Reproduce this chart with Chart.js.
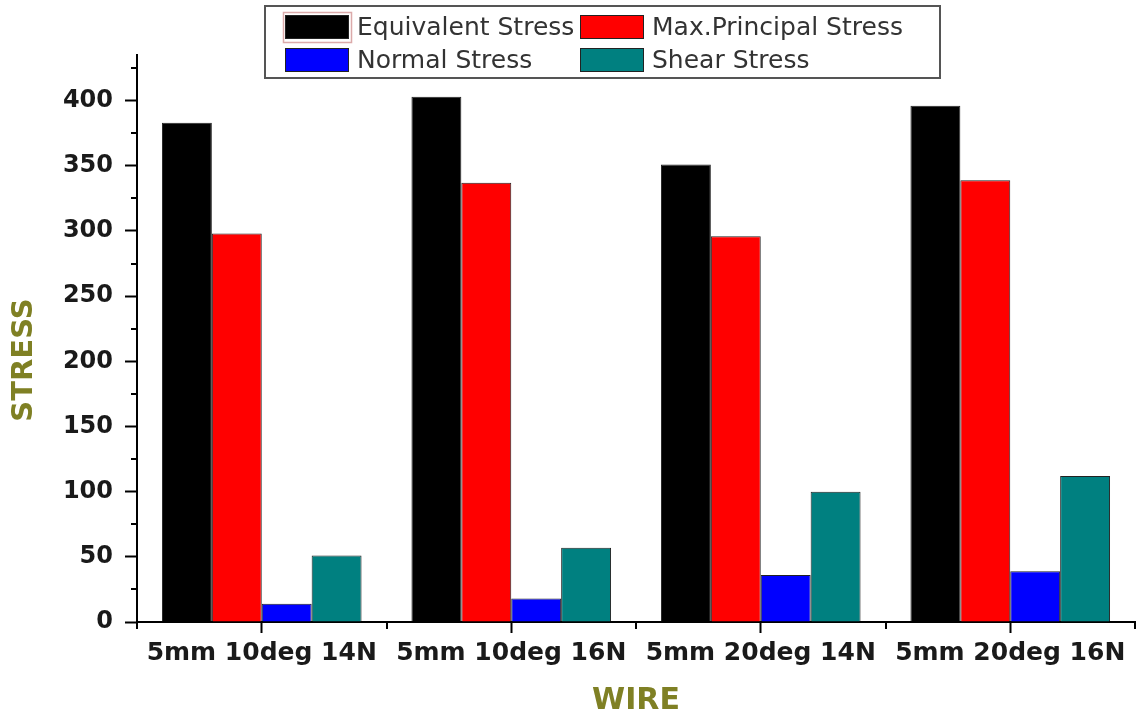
<!DOCTYPE html>
<html>
<head>
<meta charset="utf-8">
<title>Stress by wire configuration</title>
<script src="https://cdn.jsdelivr.net/npm/chart.js@4.4.1/dist/chart.umd.min.js"></script>
<style>
  html, body { margin: 0; padding: 0; background: #ffffff; }
  #wrap { width: 1138px; height: 721px; position: relative; }
  canvas { display: block; }
</style>
</head>
<body>
<div id="wrap"><canvas id="chart" width="1138" height="721"></canvas></div>
<script>
// Wire configurations along the x axis
const categories = ['5mm 10deg 14N', '5mm 10deg 16N', '5mm 20deg 14N', '5mm 20deg 16N'];

// Stress values for each configuration
const equivalentStress   = [383, 403, 351, 396];
const maxPrincipalStress = [298, 337, 296, 339];
const normalStress       = [14, 18, 36, 39];
const shearStress        = [51, 57, 100, 112];

// Series names shown in the legend
const seriesNames = ['Equivalent Stress', 'Max.Principal Stress', 'Normal Stress', 'Shear Stress'];

// Value axis range and tick spacing
const yMin = 0;
const yMax = 435;
const yMajorStep = 50;
const yMinorStep = 25;

// Axis titles
const xTitle = 'WIRE';
const yTitle = 'STRESS';

const titleColor = '#7f8024';
const tickTextColor = '#1a1a1a';

// Small secondary tick marks between the labelled ones
const minorTicks = {
  id: 'minorTicks',
  afterDraw(chart) {
    const { ctx, scales: { x, y } } = chart;
    ctx.save();
    ctx.strokeStyle = '#000';
    ctx.lineWidth = 2;
    ctx.beginPath();
    for (let v = yMinorStep; v <= yMax; v += yMajorStep) {
      const py = Math.round(y.getPixelForValue(v));
      ctx.moveTo(y.right - 6, py);
      ctx.lineTo(y.right, py);
    }
    for (let i = 0; i <= categories.length; i++) {
      const px = Math.round(x.getPixelForValue(i - 0.5));
      ctx.moveTo(px, x.top);
      ctx.lineTo(px, x.top + 7);
    }
    ctx.stroke();
    ctx.restore();
  }
};

// Vertical title of the value axis
const valueAxisTitle = {
  id: 'valueAxisTitle',
  afterDraw(chart) {
    const ctx = chart.ctx;
    ctx.save();
    ctx.translate(24, 360);
    ctx.rotate(-Math.PI / 2);
    ctx.font = 'bold 29px "DejaVu Sans"';
    ctx.fillStyle = titleColor;
    ctx.textAlign = 'center';
    ctx.textBaseline = 'middle';
    ctx.fillText(yTitle, 0, 0);
    ctx.restore();
  }
};

// Framed two-column legend at the top of the plot
const boxLegend = {
  id: 'boxLegend',
  afterDraw(chart) {
    const ctx = chart.ctx;
    const box = { x: 265, y: 6, w: 675, h: 72 };
    const cols = [285, 580];
    const rows = [27, 60];
    ctx.save();
    ctx.fillStyle = '#ffffff';
    ctx.fillRect(box.x, box.y, box.w, box.h);
    ctx.strokeStyle = '#555555';
    ctx.lineWidth = 2;
    ctx.strokeRect(box.x, box.y, box.w, box.h);
    chart.data.datasets.forEach((ds, i) => {
      const cx = cols[i % 2];
      const cy = rows[Math.floor(i / 2)];
      if (i === 0) {
        ctx.strokeStyle = 'rgba(190, 100, 100, 0.55)';
        ctx.lineWidth = 1.5;
        ctx.strokeRect(cx - 1.5, cy - 14.5, 68, 30);
      }
      ctx.fillStyle = ds.backgroundColor;
      ctx.fillRect(cx, cy - 12, 64, 24);
      ctx.strokeStyle = '#222';
      ctx.lineWidth = 1;
      ctx.strokeRect(cx + 0.5, cy - 11.5, 63, 23);
      ctx.fillStyle = '#333333';
      ctx.font = '25px "DejaVu Sans"';
      ctx.textAlign = 'left';
      ctx.textBaseline = 'middle';
      ctx.fillText(ds.label, cx + 72, cy + 1);
    });
    ctx.restore();
  }
};

const seriesValues = [equivalentStress, maxPrincipalStress, normalStress, shearStress];
const seriesColors = ['#000000', '#ff0000', '#0000ff', '#008080'];

const chart = new Chart(document.getElementById('chart'), {
  type: 'bar',
  data: {
    labels: categories,
    datasets: seriesNames.map((name, i) => ({
      label: name,
      data: seriesValues[i],
      backgroundColor: seriesColors[i],
      borderColor: 'rgba(10, 10, 10, 0.9)',
      borderWidth: 1,
      categoryPercentage: 0.8,
      barPercentage: 1.0
    }))
  },
  options: {
    responsive: false,
    animation: false,
    devicePixelRatio: 1,
    layout: { padding: { top: 55, right: 3, left: 0, bottom: 0 } },
    plugins: {
      legend: { display: false },
      tooltip: { enabled: false },
      title: { display: false }
    },
    scales: {
      x: {
        offset: true,
        border: { display: true, color: '#000', width: 2 },
        grid: {
          display: true,
          offset: false,
          drawOnChartArea: false,
          drawTicks: true,
          tickLength: 11,
          tickWidth: 2,
          tickColor: '#000'
        },
        ticks: {
          color: tickTextColor,
          font: { family: '"DejaVu Sans"', size: 25, weight: 'bold' },
          padding: 5,
          maxRotation: 0,
          autoSkip: false
        },
        title: {
          display: true,
          text: xTitle,
          color: titleColor,
          font: { family: '"DejaVu Sans"', size: 30, weight: 'bold' },
          padding: { top: 0, bottom: 2 }
        },
        afterFit(scale) { scale.height = 99; }
      },
      y: {
        min: yMin,
        max: yMax,
        border: { display: true, color: '#000', width: 2 },
        grid: {
          display: true,
          drawOnChartArea: false,
          drawTicks: true,
          tickLength: 12,
          tickWidth: 2,
          tickColor: '#000'
        },
        ticks: {
          stepSize: yMajorStep,
          includeBounds: false,
          color: tickTextColor,
          font: { family: '"DejaVu Sans"', size: 24, weight: 'bold' },
          padding: 12
        },
        afterFit(scale) { scale.width = 137; }
      }
    }
  },
  plugins: [minorTicks, valueAxisTitle, boxLegend]
});
</script>
</body>
</html>
